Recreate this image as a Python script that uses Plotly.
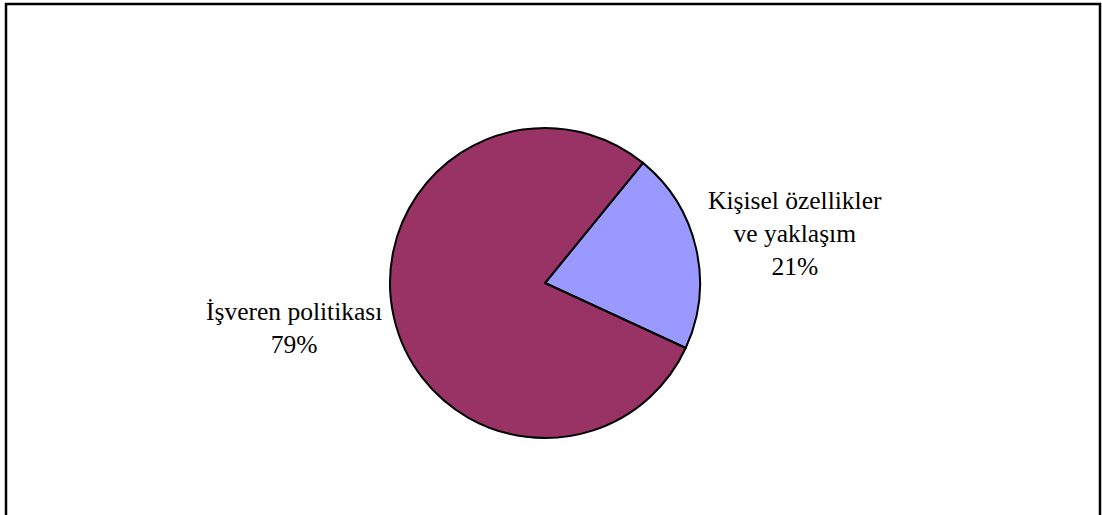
import plotly.graph_objects as go

# Survey result: share of responses per category
labels = ["Kişisel özellikler<br>ve yaklaşım", "İşveren politikası"]
values = [21, 79]
colors = ["#9999FF", "#993366"]

W, H = 1102, 515
cx, cy, r = 545, 283, 155  # pie centre / radius in pixels
start_deg = 39.2           # first slice begins this far clockwise from 12 o'clock

fig = go.Figure(go.Pie(
    labels=labels,
    values=values,
    sort=False,
    direction="clockwise",
    rotation=start_deg,
    marker=dict(colors=colors, line=dict(color="black", width=2)),
    textinfo="none",
    hoverinfo="label+percent",
    showlegend=False,
    domain=dict(x=[(cx - r) / W, (cx + r) / W],
                y=[(H - cy - r) / H, (H - cy + r) / H]),
))

# Outside labels: category name plus its percentage
label_pos = [(795, 234), (294, 328)]
total = sum(values)
for lab, val, (lx, ly) in zip(labels, values, label_pos):
    fig.add_annotation(
        x=lx / W, y=1 - ly / H, xref="paper", yref="paper",
        xanchor="center", yanchor="middle",
        text=f"{lab}<br>{round(100 * val / total)}%",
        showarrow=False, align="center",
        font=dict(family="'Times New Roman', 'Liberation Serif', Times, serif",
                  size=25.5, color="black"),
    )

# Chart frame
fig.add_shape(type="rect", xref="paper", yref="paper",
              x0=6 / W, x1=1100 / W, y0=-0.05, y1=1 - 4 / H,
              line=dict(color="black", width=2.5), fillcolor="rgba(0,0,0,0)")

fig.update_layout(
    width=W, height=H,
    margin=dict(l=0, r=0, t=0, b=0),
    paper_bgcolor="white", plot_bgcolor="white",
)

fig.write_html("out.html")
